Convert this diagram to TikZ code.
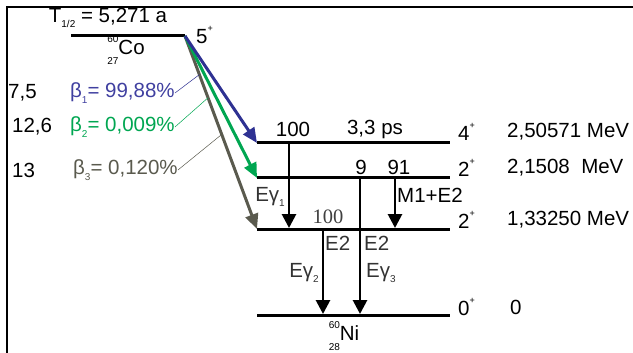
\documentclass[tikz,border=0pt]{standalone}
\usepackage{fontspec}
\setmainfont{Liberation Sans}
\newfontfamily\serifface{Liberation Serif}
\usetikzlibrary{arrows.meta,calc}
\definecolor{betablue}{HTML}{2E3192}
\definecolor{betatext}{HTML}{4040A0}
\definecolor{betagreen}{HTML}{00A651}
\definecolor{betagray}{HTML}{5A5A4E}
\newcommand\spinp[1]{#1\raisebox{1.1ex}{\fontsize{9}{9}\selectfont +}}
\newcommand\subsc[1]{\raisebox{-.5ex}{\fontsize{10}{10}\selectfont #1}}
\newcommand\nuc[3]{\makebox[0pt][l]{\raisebox{1.1ex}{\fontsize{10}{10}\selectfont #1}}\raisebox{-.9ex}{\fontsize{10}{10}\selectfont #2}#3}

\begin{document}
\begin{tikzpicture}[x=1pt, y=-1pt,
    every node/.style={font=\fontsize{20.5}{24}\selectfont, inner sep=0pt},
    level/.style={line width=3pt},
    gam/.style={line width=2.8pt, -{Triangle[length=14pt,width=14pt]}},
    betaarrow/.style={line width=3pt, -{Triangle[length=15pt,width=13pt]}},
    leader/.style={line width=0.5pt}]
    \useasboundingbox (0,0) rectangle (633,353);

    % frame
    \draw[line width=2pt] (7,353) -- (7,7) -- (633,7);

    % Co-60 level
    \coordinate (co) at (71,36);
    \coordinate (coend) at (185,36);
    \draw[level] (co) -- (coend);
    \node (thalf) at (108,18) {T\subsc{1/2} = 5,271 a};
    \node[anchor=west] (cospin) at (196,35) {\spinp{5}};
    \node (conuc) at (126,50) {\nuc{60}{27}{Co}};

    % Ni-60 levels
    \coordinate (l4a) at (257,143);  \coordinate (l4b) at (450,143);
    \coordinate (l2a) at (257,178);  \coordinate (l2b) at (450,178);
    \coordinate (l1a) at (257,229);  \coordinate (l1b) at (450,229);
    \coordinate (l0a) at (257,315);  \coordinate (l0b) at (450,315);
    \foreach \lv in {l4,l2,l1,l0}
        \draw[level] (\lv a) -- (\lv b);

    \node[anchor=west] (s4) at (458,132) {\spinp{4}};
    \node[anchor=west] (e4) at (507,132) {2,50571 MeV};
    \node[anchor=west] (s2) at (458,168) {\spinp{2}};
    \node[anchor=west] (e2) at (507,168) {2,1508\ \ MeV};
    \node[anchor=west] (s1) at (458,220) {\spinp{2}};
    \node[anchor=west] (e1) at (507,220) {1,33250 MeV};
    \node[anchor=west] (s0) at (458,307) {\spinp{0}};
    \node[anchor=west] (e0) at (510,307) {0};
    \node (ninuc) at (344,336) {\nuc{60}{28}{Ni}};

    % beta branches
    \draw[betaarrow, betagray] (coend) -- (l1a);
    \draw[betaarrow, betagreen] (coend) -- (l2a);
    \draw[betaarrow, betablue] (coend) -- (l4a);

    \node[anchor=west] (lg1) at (8,93) {7,5};
    \node[anchor=west] (lg2) at (12,127) {12,6};
    \node[anchor=west] (lg3) at (12,170) {13};
    \node[anchor=west, text=betatext] (b1) at (70,93) {β\subsc{1}= 99,88\%};
    \node[anchor=west, text=betagreen] (b2) at (70,127) {β\subsc{2}= 0,009\%};
    \node[anchor=west, text=betagray] (b3) at (73,170) {β\subsc{3}= 0,120\%};

    \coordinate (t1) at ($(coend)!0.20!(l1a)$);
    \coordinate (t2) at ($(coend)!0.32!(l1a)$);
    \coordinate (t3) at ($(coend)!0.51!(l1a)$);
    \draw[leader, betablue] (b1.east) -- (t1);
    \draw[leader, betagreen] (b2.east) -- (t2);
    \draw[leader, betagray] (b3.east) -- (t3);

    % gamma transitions
    \coordinate (g1) at (289,0);
    \coordinate (g2) at (323,0);
    \coordinate (g3) at (360,0);
    \coordinate (g4) at (395,0);
    \draw[gam] (l4a -| g1) -- ($(l1a -| g1)+(0,-1)$);
    \draw[gam] (l2a -| g4) -- ($(l1a -| g4)+(0,-1)$);
    \draw[gam] (l1a -| g2) -- ($(l0a -| g2)+(0,-1)$);
    \draw[gam] (l2a -| g3) -- ($(l0a -| g3)+(0,-1)$);

    \node (i4) at (293,129) {100};
    \node (tau) at (375,129) {3,3 ps};
    \node (i9) at (361,167) {9};
    \node (i91) at (399,167) {91};
    \node[text=black!80] (eg1) at (270,197) {Eγ\subsc{1}};
    \node[anchor=west] (m1e2) at (397,195) {M1+E2};
    \node[font=\fontsize{20.5}{24}\serifface, text=black!75] (i1) at (328,217) {100};
    \node[anchor=west, text=black!80] (mult2) at (325,243) {E2};
    \node[anchor=west, text=black!80] (mult3) at (364,243) {E2};
    \node[text=black!80] (eg2) at (304,273) {Eγ\subsc{2}};
    \node[anchor=west, text=black!80] (eg3) at (366,273) {Eγ\subsc{3}};
\end{tikzpicture}
\end{document}
